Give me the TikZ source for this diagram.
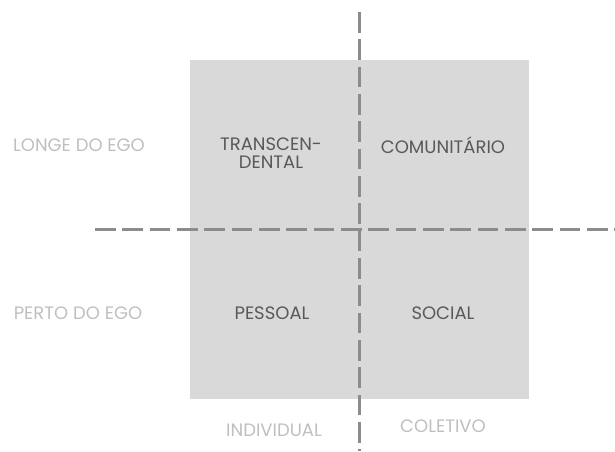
\documentclass[tikz,border=0pt]{standalone}
\usepackage{fontspec}
\setmainfont{Poppins}
\usetikzlibrary{positioning}
\definecolor{boxgrey}{HTML}{D9D9D9}
\definecolor{axisgrey}{HTML}{8C8C8C}
\definecolor{innergrey}{HTML}{595959}
\definecolor{outergrey}{HTML}{BFBFBF}

\begin{document}
\begin{tikzpicture}[
                        x=0.75pt,
                        y=-0.75pt,
                        font=\fontsize{13.5}{14}\selectfont,
                        axis/.style={draw=axisgrey,line width=2.25pt,dash pattern=on 15.5pt off 5pt},
                        inner/.style={text=innergrey,align=center},
                        outer/.style={text=outergrey,align=center}
                    ]
                    \useasboundingbox (0,0) rectangle (615,451);

                    % quadrants
                    \fill[boxgrey] (190,60) rectangle (529,399);

                    \coordinate (top)    at (359,12);
                    \coordinate (bottom) at (359,451);
                    \coordinate (left)   at (95,229);
                    \coordinate (right)  at (615,229);

                    \draw[axis] (top) -- (bottom);
                    \draw[axis] (left) -- (right);

                    \node[inner] (T) at (271,153) {TRANSCEN-\\DENTAL};
                    \node[inner] (C) at (443,145) {COMUNITÁRIO};
                    \node[inner] (P) at (272,313) {PESSOAL};
                    \node[inner] (S) at (443,313) {SOCIAL};

                    \node[outer] (far)  at (79,145)  {LONGE DO EGO};
                    \node[outer] (near) at (78,313)  {PERTO DO EGO};
                    \node[outer] (ind)  at (274,430) {INDIVIDUAL};
                    \node[outer] (col)  at (443,426) {COLETIVO};

                \end{tikzpicture}
\end{document}
